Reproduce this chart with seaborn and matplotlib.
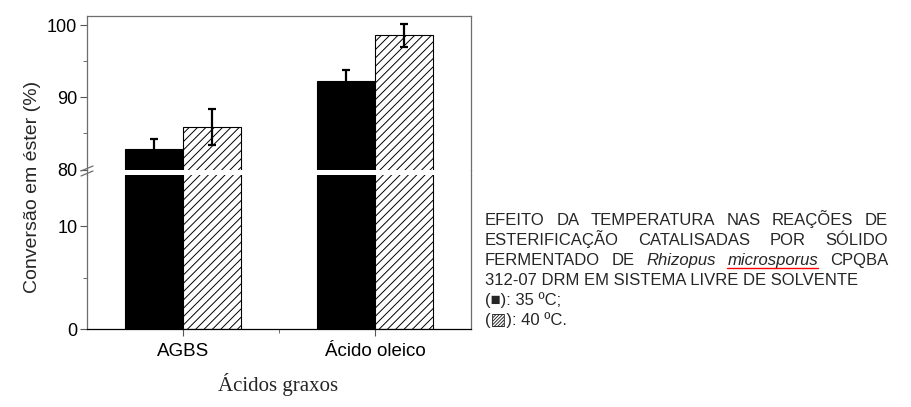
import seaborn as sns
import matplotlib.pyplot as plt
import pandas as pd
from matplotlib.lines import Line2D

# dados
acidos = ["AGBS", "Ácido oleico"]
temperaturas = ["35 ºC", "40 ºC"]
conv_35 = [82.9, 92.2]
conv_40 = [85.9, 98.6]
erro_35 = [1.35, 1.6]
erro_40 = [2.45, 1.6]

df = pd.DataFrame(
    {
        "acido": acidos * 2,
        "temp": [temperaturas[0]] * 2 + [temperaturas[1]] * 2,
        "conv": conv_35 + conv_40,
    }
)

sns.set_style("ticks")
plt.rcParams.update(
    {
        "font.family": ["Liberation Sans", "DejaVu Sans"],
        "font.size": 12,
        "hatch.linewidth": 0.7,
        "xtick.major.size": 5,
        "ytick.major.size": 5,
        "xtick.minor.size": 3,
        "ytick.minor.size": 3,
        "xtick.color": "#555555",
        "ytick.color": "#555555",
        "xtick.labelcolor": "black",
        "ytick.labelcolor": "black",
    }
)

W, H = 912, 407
fig = plt.figure(figsize=(W / 100, H / 100), dpi=100)
L, R = 87, 471
ax_top = fig.add_axes([L / W, 1 - 169.5 / H, (R - L) / W, (169.5 - 16) / H])
ax_bot = fig.add_axes([L / W, 1 - 329 / H, (R - L) / W, (329 - 175) / H])

gray = "#6e6e6e"
for ax in (ax_top, ax_bot):
    sns.barplot(
        data=df, x="acido", y="conv", hue="temp",
        palette=["black", "white"], saturation=1,
        edgecolor="black", linewidth=0.8, width=0.6,
        errorbar=None, legend=False, ax=ax,
    )
    for bar in ax.containers[1]:
        bar.set_hatch("////")
    ax.set_xlim(-0.5, 1.5)
    ax.set_xlabel("")
    ax.set_ylabel("")
    for s in ax.spines.values():
        s.set_color(gray)
        s.set_linewidth(0.9)

# barras de erro
for cont, errs in zip(ax_top.containers, [erro_35, erro_40]):
    for bar, e in zip(cont, errs):
        ax_top.errorbar(
            bar.get_x() + bar.get_width() / 2, bar.get_height(), yerr=e,
            color="black", elinewidth=1.6, capsize=3, capthick=1.6,
        )

ax_top.set_ylim(80, 101.25)
ax_top.set_yticks([80, 90, 100])
ax_top.set_yticks([85, 95], minor=True)
ax_top.spines["bottom"].set_visible(False)
ax_top.tick_params(axis="x", which="both", bottom=False, labelbottom=False)

ax_bot.set_ylim(0, 15)
ax_bot.set_yticks([0, 10])
ax_bot.set_yticks([5], minor=True)
ax_bot.set_xticks([0, 1])
ax_bot.set_xticklabels(acidos)
ax_bot.set_xticks([0.5], minor=True)
ax_bot.spines["top"].set_visible(False)
ax_bot.spines["bottom"].set_color("black")

for ax in (ax_top, ax_bot):
    ax.tick_params(axis="y", labelsize=13, pad=2)
ax_bot.tick_params(axis="x", labelsize=13.5, pad=5)

# eixo continuo entre as partes
for xp in (L, R):
    fig.add_artist(Line2D([xp / W, xp / W], [1 - 175 / H, 1 - 169.5 / H],
                          color=gray, lw=0.9, transform=fig.transFigure))
# marca de quebra
for dy in (0, 5):
    fig.add_artist(Line2D([81 / W, 93 / W], [1 - (171 + dy) / H, 1 - (166 + dy) / H],
                          color=gray, lw=0.9, transform=fig.transFigure))

fig.text(33 / W, 1 - 187 / H, "Conversão em éster (%)", rotation=90,
         ha="center", va="center", fontsize=14)
fig.text(278.5 / W, 1 - 391 / H, "Ácidos graxos", ha="center", va="baseline",
         fontsize=15, family="Liberation Serif")

# texto a direita (justificado)
FS = 12
X0, X1 = 485, 888
linhas = [
    ([("EFEITO", ""), ("DA", ""), ("TEMPERATURA", ""), ("NAS", ""), ("REAÇÕES", ""), ("DE", "")], True),
    ([("ESTERIFICAÇÃO", ""), ("CATALISADAS", ""), ("POR", ""), ("SÓLIDO", "")], True),
    ([("FERMENTADO", ""), ("DE", ""), ("Rhizopus", "i"), ("microsporus", "iu"), ("CPQBA", "")], True),
    ([("312-07 DRM EM SISTEMA LIVRE DE SOLVENTE", "")], False),
    ([("(■): 35 ºC;", "")], False),
    ([("(▨): 40 ºC.", "")], False),
]
renderer = fig.canvas.get_renderer()
for i, (palavras, just) in enumerate(linhas):
    yb = 225 + 20 * i
    arts = []
    for w, st in palavras:
        t = fig.text(X0 / W, 1 - yb / H, w, fontsize=FS, ha="left", va="baseline",
                     fontstyle="italic" if "i" in st else "normal")
        arts.append((t, st))
    if not just:
        continue
    larg = [t.get_window_extent(renderer).width for t, _ in arts]
    gap = (X1 - X0 - sum(larg)) / (len(arts) - 1)
    x = X0
    for (t, st), wd in zip(arts, larg):
        t.set_x(x / W)
        if "u" in st:
            fig.add_artist(Line2D([x / W, (x + wd) / W], [1 - (yb + 2.5) / H] * 2,
                                  color="red", lw=1.0, transform=fig.transFigure))
        x += wd + gap

fig.savefig("out.png", dpi=100)
